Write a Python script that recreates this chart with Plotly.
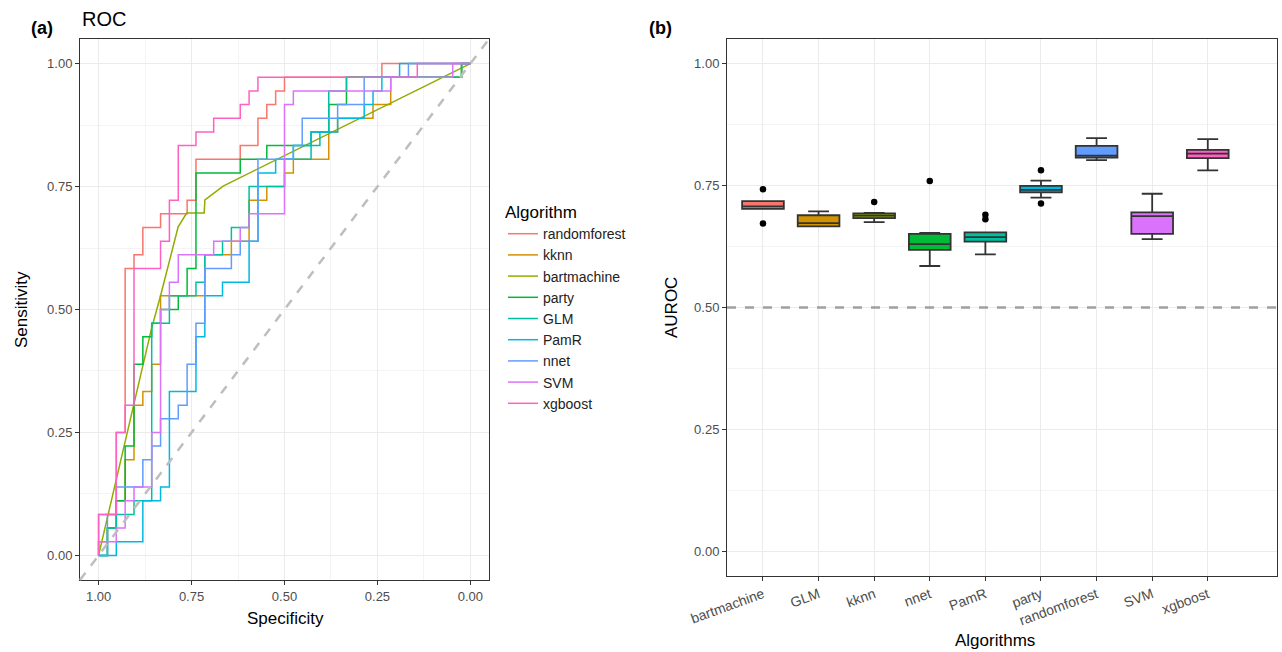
import plotly.graph_objects as go

W, H = 1282, 652
FONT = "Liberation Sans, Arial, sans-serif"

# ---------------- Panel (a): ROC data ----------------
N_NEG = 42   # negatives (specificity steps)
N_POS = 36   # positives (sensitivity steps)

roc_algorithms = ["randomforest", "kknn", "bartmachine", "party", "GLM",
                  "PamR", "nnet", "SVM", "xgboost"]
roc_colors = ["#F8766D", "#D39200", "#93AA00", "#00BA38", "#00C19F",
              "#00B9E3", "#619CFF", "#DB72FB", "#FF61C3"]

# step ROC vertices as (false-positive count, true-positive count)
roc_randomforest = [(0,0),(0,3),(2,3),(2,9),(3,9),(3,21),(4,21),(4,22),(5,22),(5,24),(7,24),(7,25),
                    (10,25),(10,26),(11,26),(11,29),(16,29),(16,30),(18,30),(18,32),(19,32),(19,33),
                    (20,33),(20,34),(21,34),(21,35),(32,35),(32,36),(42,36)]
roc_kknn = [(0,0),(0,1),(1,1),(1,2),(2,2),(2,4),(3,4),(3,7),(4,7),(4,11),(5,11),(5,12),(6,12),(6,14),
            (7,14),(7,19),(12,19),(12,22),(15,22),(15,23),(17,23),(17,26),(19,26),(19,27),(21,27),
            (21,28),(22,28),(22,29),(26,29),(26,31),(27,31),(27,32),(31,32),(31,33),(33,33),(33,35),
            (41,35),(41,36),(42,36)]
roc_party = [(0,0),(1,0),(1,2),(2,2),(2,4),(3,4),(3,8),(4,8),(4,14),(5,14),(5,16),(6,16),(6,17),
             (7,17),(7,18),(9,18),(9,19),(10,19),(10,21),(11,21),(11,28),(16,28),(16,29),(19,29),
             (19,30),(24,30),(24,31),(26,31),(26,33),(28,33),(28,35),(41,35),(41,36),(42,36)]
roc_GLM = [(0,0),(1,0),(1,2),(2,2),(2,3),(4,3),(4,4),(6,4),(6,17),(8,17),(8,19),(11,19),(11,20),
           (12,20),(12,22),(14,22),(14,23),(15,23),(15,24),(17,24),(17,27),(21,27),(21,29),(24,29),
           (24,30),(25,30),(25,31),(26,31),(26,34),(28,34),(28,35),(41,35),(41,36),(42,36)]
roc_PamR = [(0,0),(2,0),(2,1),(5,1),(5,4),(7,4),(7,5),(8,5),(8,12),(11,12),(11,16),(12,16),(12,19),
            (14,19),(14,20),(17,20),(17,23),(18,23),(18,28),(20,28),(20,29),(22,29),(22,30),(24,30),
            (24,31),(27,31),(27,32),(30,32),(30,33),(31,33),(31,34),(32,34),(32,35),(34,35),(34,36),
            (42,36)]
roc_nnet = [(0,0),(1,0),(1,3),(2,3),(2,5),(5,5),(5,7),(6,7),(6,8),(7,8),(7,10),(9,10),(9,11),(10,11),
            (10,14),(11,14),(11,17),(12,17),(12,21),(15,21),(15,22),(16,22),(16,23),(18,23),(18,29),
            (22,29),(22,30),(23,30),(23,32),(27,32),(27,33),(30,33),(30,35),(35,35),(35,36),(42,36)]
roc_SVM = [(0,0),(0,1),(2,1),(2,2),(3,2),(3,4),(4,4),(4,5),(6,5),(6,9),(7,9),(7,18),(8,18),(8,20),
           (9,20),(9,22),(13,22),(13,23),(16,23),(16,24),(17,24),(17,25),(21,25),(21,33),(22,33),
           (22,34),(33,34),(33,35),(40,35),(40,36),(42,36)]
roc_xgboost = [(0,0),(0,3),(2,3),(2,9),(3,9),(3,11),(4,11),(4,21),(7,21),(7,23),(8,23),(8,26),(9,26),
               (9,30),(11,30),(11,31),(13,31),(13,32),(16,32),(16,33),(17,33),(17,34),(18,34),(18,35),
               (36,35),(36,36),(42,36)]
# smoothed curve (already as rates)
bart_specificity = [1.0, 0.858, 0.833, 0.786, 0.763, 0.716, 0.714, 0.665, 0.0]
bart_sensitivity = [0.0, 0.460, 0.529, 0.668, 0.696, 0.696, 0.723, 0.751, 1.0]

step_curves = {"randomforest": roc_randomforest, "kknn": roc_kknn, "party": roc_party,
               "GLM": roc_GLM, "PamR": roc_PamR, "nnet": roc_nnet, "SVM": roc_SVM,
               "xgboost": roc_xgboost}

# ---------------- Panel (b): AUROC box data ----------------
box_algorithms = ["bartmachine", "GLM", "kknn", "nnet", "PamR", "party",
                  "randomforest", "SVM", "xgboost"]
box_colors = ["#F8766D", "#D39200", "#93AA00", "#00BA38", "#00C19F",
              "#00B9E3", "#619CFF", "#DB72FB", "#FF61C3"]
box_q1 = [0.702, 0.666, 0.683, 0.618, 0.635, 0.736, 0.807, 0.651, 0.806]
box_median = [0.707, 0.673, 0.688, 0.630, 0.644, 0.741, 0.811, 0.687, 0.815]
box_q3 = [0.718, 0.689, 0.693, 0.651, 0.654, 0.749, 0.831, 0.695, 0.823]
box_lower = [0.702, 0.666, 0.675, 0.585, 0.609, 0.725, 0.802, 0.640, 0.781]
box_upper = [0.718, 0.697, 0.694, 0.653, 0.654, 0.760, 0.847, 0.733, 0.845]
outlier_algorithm = ["bartmachine", "bartmachine", "kknn", "nnet", "PamR", "PamR", "party", "party"]
outlier_value = [0.742, 0.672, 0.716, 0.759, 0.690, 0.681, 0.781, 0.713]

major_ticks = [0.0, 0.25, 0.5, 0.75, 1.0]
major_labels = ["0.00", "0.25", "0.50", "0.75", "1.00"]

fig = go.Figure()

for name, col in zip(roc_algorithms, roc_colors):
    if name == "bartmachine":
        xs, ys = bart_specificity, bart_sensitivity
    else:
        pts = step_curves[name]
        xs = [1 - fp / N_NEG for fp, tp in pts]
        ys = [tp / N_POS for fp, tp in pts]
    fig.add_trace(go.Scatter(x=xs, y=ys, mode="lines", name=name,
                             line=dict(color=col, width=1.5),
                             legendgroup=name, xaxis="x", yaxis="y"))

for i, name in enumerate(box_algorithms):
    fig.add_trace(go.Box(x=[name], q1=[box_q1[i]], median=[box_median[i]], q3=[box_q3[i]],
                         lowerfence=[box_lower[i]], upperfence=[box_upper[i]],
                         fillcolor=box_colors[i], line=dict(color="#333333", width=1.8),
                         width=0.75, boxpoints=False, showlegend=False,
                         xaxis="x2", yaxis="y2", hoverinfo="skip"))

fig.add_trace(go.Scatter(x=outlier_algorithm, y=outlier_value, mode="markers",
                         marker=dict(color="black", size=6.5), showlegend=False,
                         xaxis="x2", yaxis="y2"))

grid_major = "#EBEBEB"
grid_minor = "#F4F4F4"
axis_common = dict(showline=True, mirror=True, linecolor="#333333", linewidth=1,
                   ticks="outside", ticklen=4, tickcolor="#333333", tickwidth=1,
                   gridcolor=grid_major, gridwidth=1.2, zeroline=False, automargin=False)
tick_font = dict(family=FONT, size=13, color="#4D4D4D")
minor = dict(dtick=0.125, tick0=0, showgrid=True, gridcolor=grid_minor, gridwidth=0.7, ticks="")

fig.update_layout(
    width=W, height=H, margin=dict(l=0, r=0, t=0, b=0, autoexpand=False),
    paper_bgcolor="white", plot_bgcolor="white",
    font=dict(family=FONT),
    xaxis=dict(domain=[80 / W, 489 / W], range=[1.05, -0.05], tickvals=major_ticks,
               ticktext=major_labels, minor=minor, anchor="y", tickfont=tick_font, **axis_common),
    yaxis=dict(domain=[1 - 580 / H, 1 - 39 / H], range=[-0.05, 1.05], tickvals=major_ticks,
               ticktext=major_labels, minor=minor, anchor="x", tickfont=tick_font, **axis_common),
    xaxis2=dict(domain=[727 / W, 1277 / W], type="category", categoryorder="array",
                categoryarray=box_algorithms, range=[-0.647, 9.245], tickangle=-20,
                anchor="y2", tickfont=dict(family=FONT, size=14, color="#4D4D4D"), **axis_common),
    yaxis2=dict(domain=[1 - 576 / H, 1 - 39 / H], range=[-0.05, 1.05], tickvals=major_ticks,
                ticktext=major_labels, minor=minor, anchor="x2", tickfont=tick_font, **axis_common),
    legend=dict(x=503 / W, y=1 - 196 / H, xanchor="left", yanchor="top",
                title=dict(text="Algorithm", font=dict(family=FONT, size=17, color="black")),
                font=dict(family=FONT, size=14, color="#222222"),
                tracegroupgap=0, bgcolor="rgba(0,0,0,0)"),
    showlegend=True,
)

# reference lines
fig.add_shape(type="line", xref="x domain", yref="y domain", x0=0, y0=0, x1=1, y1=1,
              line=dict(color="#BEBEBE", width=2.5, dash="dash"), layer="above")
fig.add_shape(type="line", xref="x2 domain", yref="y2", x0=0, x1=1, y0=0.5, y1=0.5,
              line=dict(color="#A0A0A0", width=2.5, dash="dash"), layer="above")

def ann(text, x, y, size, bold=False, angle=0, xanchor="center", color="black"):
    fig.add_annotation(text=f"<b>{text}</b>" if bold else text, x=x / W, y=1 - y / H,
                       xref="paper", yref="paper", showarrow=False, textangle=angle,
                       xanchor=xanchor, yanchor="middle",
                       font=dict(family=FONT, size=size, color=color))

ann("(a)", 42, 28, 18, bold=True)
ann("ROC", 80, 19, 20, xanchor="left")
ann("(b)", 660, 28, 18, bold=True)
ann("Specificity", 285, 618, 17)
ann("Sensitivity", 22, 310, 17, angle=-90)
ann("AUROC", 672, 308, 17, angle=-90)
ann("Algorithms", 995, 640, 17)

fig.write_html("out.html")
